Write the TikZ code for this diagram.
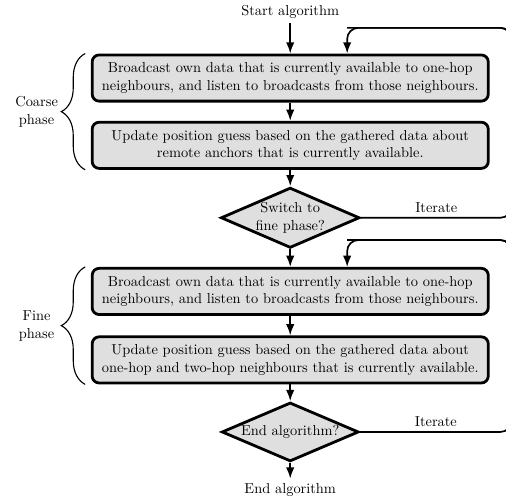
\documentclass[tikz,border=0pt]{standalone}
\usepackage{amsmath,amssymb}
\usepackage{tikz}
\usetikzlibrary{arrows.meta, shapes.geometric, decorations.pathreplacing}

\begin{document}
\begin{tikzpicture}[
            font=\fontsize{10.3}{12.3}\selectfont,
            stepbox/.style={draw, line width=2pt, rounded corners=5pt, fill=gray!25,
                minimum width=9.95cm, minimum height=1.16cm, align=center, inner sep=2pt},
            choice/.style={draw, diamond, line width=2pt, fill=gray!25, aspect=2.3,
                minimum width=3.44cm, minimum height=1.48cm, align=center, inner sep=0pt},
            flow/.style={very thick, -{Latex[length=8pt,width=6pt]}},
            loopline/.style={very thick, rounded corners=8pt}
        ]
            \useasboundingbox (0,0) rectangle (12.71,12.61);

            \node (start) at (7.29,12.31) {Start algorithm};
            \node[stepbox] (b1) at (7.29,10.65) {Broadcast own data that is currently available to one-hop\\neighbours, and listen to broadcasts from those neighbours.};
            \node[stepbox] (b2) at (7.29,8.96) {Update position guess based on the gathered data about\\remote anchors that is currently available.};
            \node[choice] (sw) at (7.29,7.14) {Switch to\\fine phase?};
            \node[stepbox] (b3) at (7.29,5.29) {Broadcast own data that is currently available to one-hop\\neighbours, and listen to broadcasts from those neighbours.};
            \node[stepbox] (b4) at (7.29,3.57) {Update position guess based on the gathered data about\\one-hop and two-hop neighbours that is currently available.};
            \node[choice] (fin) at (7.29,1.76) {End algorithm?};
            \node (stop) at (7.29,0.30) {End algorithm};

            % main flow
            \draw[flow] (start) -- (b1);
            \draw[flow] (b1) -- (b2);
            \draw[flow] (b2) -- (sw);
            \draw[flow] (sw) -- (b3);
            \draw[flow] (b3) -- (b4);
            \draw[flow] (b4) -- (fin);
            \draw[flow] (fin) -- (stop);

            % loops, they run off the right edge
            \coordinate (rx) at (12.85,0);
            \coordinate (ret1) at (8.72,11.91);
            \coordinate (ret2) at (8.72,6.58);
            \draw[loopline] (sw.east) -- node[above] {Iterate} (sw.east -| rx) |- (ret1);
            \draw[loopline, flow] (sw.east -| rx) |- (ret1) -- (ret1 |- b1.north);
            \draw[loopline] (fin.east) -- node[above] {Iterate} (fin.east -| rx) |- (ret2);
            \draw[loopline, flow] (fin.east -| rx) |- (ret2) -- (ret2 |- b3.north);

            % phases
            \coordinate (bx) at (2.14,0);
            \draw[thick, decorate, decoration={brace, amplitude=0.6cm}] (b2.south -| bx) -- (b1.north -| bx);
            \draw[thick, decorate, decoration={brace, amplitude=0.6cm}] (b4.south -| bx) -- (b3.north -| bx);
            \node[align=center] (coarse) at (0.92,9.80) {Coarse\\phase};
            \node[align=center] (fine) at (0.92,4.42) {Fine\\phase};
        \end{tikzpicture}
\end{document}
